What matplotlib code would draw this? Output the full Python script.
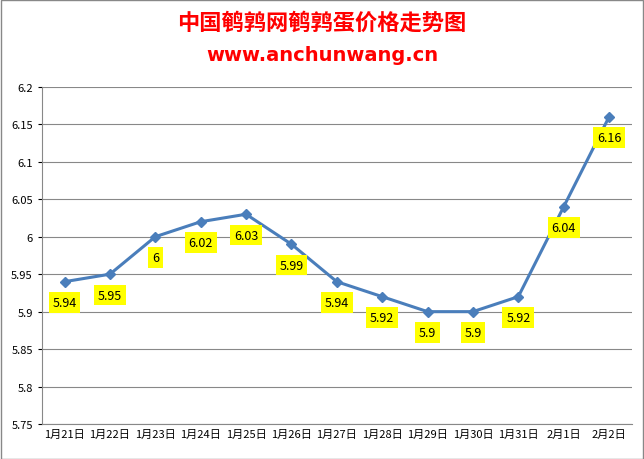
import matplotlib
matplotlib.use("Agg")
import matplotlib.pyplot as plt

plt.rcParams['font.family'] = ['Noto Sans CJK SC', 'DejaVu Sans']

dates = ["1月21日","1月22日","1月23日","1月24日","1月25日","1月26日","1月27日","1月28日","1月29日","1月30日","1月31日","2月1日","2月2日"]
values = [5.94,5.95,6.00,6.02,6.03,5.99,5.94,5.92,5.90,5.90,5.92,6.04,6.16]
labels = ["5.94","5.95","6","6.02","6.03","5.99","5.94","5.92","5.9","5.9","5.92","6.04","6.16"]
yticks = [5.75,5.8,5.85,5.9,5.95,6.0,6.05,6.1,6.15,6.2]
ytick_labels = ["5.75","5.8","5.85","5.9","5.95","6","6.05","6.1","6.15","6.2"]

fig = plt.figure(figsize=(6.44,4.6), dpi=100)
fig.patches.append(plt.Rectangle((0.001,0.001),0.997,0.997,transform=fig.transFigure,fill=False,edgecolor='#888888',lw=1))
ax = fig.add_axes([0.065,0.076,0.916,0.733])
x = list(range(len(dates)))
ax.plot(x, values, color='#4a7ebb', lw=2.2, marker='D', markersize=5)
for xi, v, l in zip(x, values, labels):
    ax.annotate(l, (xi, v), xytext=(0,-15), textcoords='offset points', ha='center', va='center',
                fontsize=9, bbox=dict(boxstyle='square,pad=0.3', fc='#ffff00', ec='none'))
ax.set_xlim(-0.5, len(dates)-0.5)
ax.set_ylim(5.75, 6.2)
ax.set_yticks(yticks)
ax.set_yticklabels(ytick_labels, fontsize=8)
ax.set_xticks(x)
ax.set_xticklabels(dates, fontsize=8)
ax.tick_params(axis='x', length=0)
ax.tick_params(axis='y', length=3)
ax.grid(axis='y', color='#888888', lw=0.8)
ax.set_axisbelow(True)
for s in ['top','right']:
    ax.spines[s].set_visible(False)
ax.spines['left'].set_color('#888888')
ax.spines['bottom'].set_color('#888888')
fig.text(0.5, 0.95, "中国鹌鹑网鹌鹑蛋价格走势图", color='red', fontsize=16, fontweight='bold', ha='center', va='center')
fig.text(0.5, 0.88, "www.anchunwang.cn", color='red', fontsize=14, fontweight='bold', ha='center', va='center', family='DejaVu Sans')
fig.savefig("out.png", dpi=100)
